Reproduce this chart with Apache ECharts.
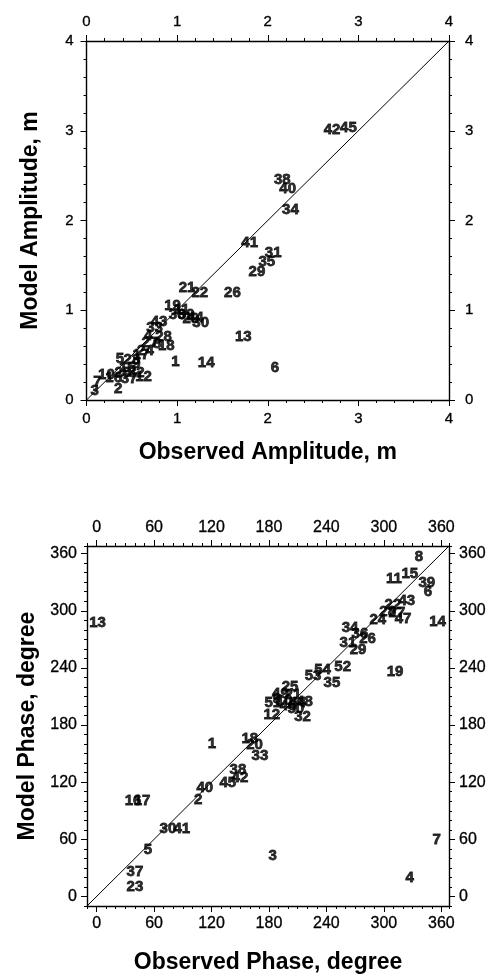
<!DOCTYPE html>
<html>
<head>
<meta charset="utf-8">
<script src="https://cdn.jsdelivr.net/npm/echarts@6/dist/echarts.min.js"></script>
<style>html,body{margin:0;padding:0;background:#fff}#c{width:503px;height:975px}</style>
</head>
<body>
<div id="c"></div>
<script>
// ---- Amplitude panel ----
const ampIds   = ['1','2','3','4','5','6','7','8','9','10','11','12','13','14','15','16','17','18','19','20','21','22','23','24','25','26','27','28','29','30','31','32','33','34','35','36','37','38','39','40','41','42','43','44','45'];
const ampObs   = [0.98,0.35,0.09,0.68,0.37,2.08,0.12,0.78,0.55,0.22,1.05,0.63,1.73,1.32,0.45,0.30,0.60,0.88,0.95,1.15,1.11,1.25,0.50,0.65,0.40,1.61,0.70,0.85,1.88,1.26,2.06,0.55,0.75,2.25,1.99,1.00,0.47,2.16,1.10,2.22,1.80,2.71,0.80,1.20,2.89];
const ampModel = [0.42,0.12,0.10,0.72,0.46,0.36,0.20,0.62,0.40,0.28,1.00,0.26,0.70,0.41,0.36,0.25,0.50,0.60,1.05,0.90,1.25,1.19,0.45,0.55,0.30,1.19,0.64,0.70,1.43,0.86,1.64,0.30,0.80,2.12,1.54,0.95,0.24,2.45,0.95,2.35,1.75,3.01,0.87,0.92,3.03];
const ampTicks = [0,1,2,3,4];

// ---- Phase panel ----
const phIds   = ['1','2','3','4','5','6','7','8','9','10','11','12','13','14','15','16','17','18','19','20','21','22','23','24','25','26','27','28','29','30','31','32','33','34','35','36','37','38','39','40','41','42','43','44','45','46','47','48','49','50','51','52','53','54'];
const phObs   = [120.5,106,184,327,53.7,346,355,336.5,188,196,310.4,183,1,356,327,38,47.4,160,311.6,165,205,309.4,40,293.7,202,283,313.6,304,273,74.5,262.5,215,170.6,264.6,245.7,275,40,147.6,344.8,113,89,149.7,324,210,137,200,320,217,192,208,184,257,226,236];
const phModel = [160,101,42.4,20,48.7,319.7,59,356.5,207,205,333.4,190.6,287,288,338.7,100,100,166,235.7,159,212,306,10,290.3,220,270,297.6,299,259,70.8,266,188.6,148,282,224,276,25.6,133,329.2,114,70.8,124.5,310,203,119,200,292,204,213,197,203,241,232,238];
const phTicks = [0,60,120,180,240,300,360];

const chart = echarts.init(document.getElementById('c'), null, {renderer:'canvas'});
const FONT = 'Liberation Sans';
const black = '#000';

function mkAxis(o){
  return Object.assign({
    type:'value',
    splitLine:{show:false},
    axisLine:{show:true, onZero:false, lineStyle:{color:black, width:1.4}},
    axisTick:{show:true, inside:false, length:6, lineStyle:{color:black, width:1}},
    axisLabel:{show:true, color:black, fontFamily:FONT, fontSize:15},
    nameTextStyle:{color:black, fontFamily:FONT, fontWeight:'bold', fontSize:23},
    nameLocation:'middle'
  }, o);
}

const minor = {show:true, splitNumber:5, length:3, lineStyle:{color:black, width:1}};
const tl = (m)=>({show:true, color:black, fontFamily:FONT, fontSize:15, margin:m, textBorderColor:black, textBorderWidth:0.3});

const phLabel = {show:true, color:black, fontFamily:FONT, fontSize:16, margin:10, customValues:phTicks, textBorderColor:black, textBorderWidth:0.3};
const phMinorTick = {show:true, inside:false, length:3, lineStyle:{color:black, width:1}};
const phMajorTick = {show:true, inside:false, length:6, customValues:phTicks, lineStyle:{color:black, width:1}};
const hiddenLine = {show:false, onZero:false};

const xAxes = [
  mkAxis({gridIndex:0, position:'bottom', min:0, max:4, interval:1, minorTick:minor, axisLabel:tl(11),
          name:'Observed Amplitude, m', nameGap:41}),
  mkAxis({gridIndex:0, position:'top', min:0, max:4, interval:1, minorTick:minor, axisLabel:tl(12)}),
  mkAxis({gridIndex:1, position:'bottom', min:-10, max:368, interval:10, axisTick:phMinorTick,
          axisLabel:phLabel, name:'Observed Phase, degree', nameGap:45}),
  mkAxis({gridIndex:1, position:'top', min:-10, max:368, interval:10, axisTick:phMinorTick, axisLabel:phLabel}),
  mkAxis({gridIndex:1, position:'bottom', min:-10, max:368, interval:10, axisLine:hiddenLine,
          axisTick:phMajorTick, axisLabel:{show:false}}),
  mkAxis({gridIndex:1, position:'top', min:-10, max:368, interval:10, axisLine:hiddenLine,
          axisTick:phMajorTick, axisLabel:{show:false}})
];
const yAxes = [
  mkAxis({gridIndex:0, position:'left', min:0, max:4, interval:1, minorTick:minor, axisLabel:tl(13),
          name:'Model Amplitude, m', nameGap:44}),
  mkAxis({gridIndex:0, position:'right', min:0, max:4, interval:1, minorTick:minor, axisLabel:tl(16)}),
  mkAxis({gridIndex:1, position:'left', min:-10, max:368, interval:10, axisTick:phMinorTick,
          axisLabel:phLabel, name:'Model Phase, degree', nameGap:46}),
  mkAxis({gridIndex:1, position:'right', min:-10, max:368, interval:10, axisTick:phMinorTick, axisLabel:phLabel}),
  mkAxis({gridIndex:1, position:'left', min:-10, max:368, interval:10, axisLine:hiddenLine,
          axisTick:phMajorTick, axisLabel:{show:false}}),
  mkAxis({gridIndex:1, position:'right', min:-10, max:368, interval:10, axisLine:hiddenLine,
          axisTick:phMajorTick, axisLabel:{show:false}})
];

function pts(ids, xs, ys){
  return ids.map((id,i)=>({name:id, value:[xs[i], ys[i]]}));
}
const ptLabel = {show:true, position:'inside', formatter:p=>p.name, color:black,
                 fontFamily:FONT, fontWeight:'bold', fontSize:15,
                 textBorderColor:black, textBorderWidth:0.8};

chart.setOption({
  animation:false,
  backgroundColor:'#fff',
  grid:[
    {left:86.5, top:41, width:362.5, height:359, containLabel:false},
    {left:87, top:546, width:362, height:360, containLabel:false}
  ],
  xAxis:xAxes,
  yAxis:yAxes,
  series:[
    {type:'line', xAxisIndex:0, yAxisIndex:0, data:[[ampTicks[0],ampTicks[0]],[ampTicks[4],ampTicks[4]]],
     symbol:'none', silent:true, lineStyle:{color:black, width:1}},
    {type:'scatter', xAxisIndex:0, yAxisIndex:0, data:pts(ampIds, ampObs, ampModel),
     symbolSize:1, itemStyle:{color:'rgba(0,0,0,0)'}, label:ptLabel, silent:true},
    {type:'line', xAxisIndex:2, yAxisIndex:2, data:[[-10,-10],[368,368]],
     symbol:'none', silent:true, lineStyle:{color:black, width:1}},
    {type:'scatter', xAxisIndex:2, yAxisIndex:2, data:pts(phIds, phObs, phModel),
     symbolSize:1, itemStyle:{color:'rgba(0,0,0,0)'}, label:ptLabel, silent:true}
  ]
});
</script>
</body>
</html>
